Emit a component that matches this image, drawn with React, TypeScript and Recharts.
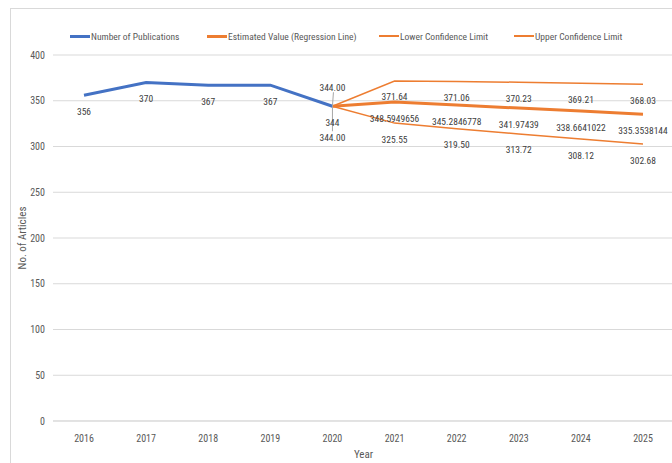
import React from 'react';
import {
  LineChart,
  Line,
  XAxis,
  YAxis,
  CartesianGrid,
  LabelList,
  Label,
} from 'recharts';

const years = ['2016', '2017', '2018', '2019', '2020', '2021', '2022', '2023', '2024', '2025'];
const publications = [356, 370, 367, 367, 344];
const estimated = [344, 348.5949656, 345.2846778, 341.97439, 338.6641022, 335.3538144];
const lowerLimit = [344, 325.55, 319.5, 313.72, 308.12, 302.68];
const upperLimit = [344, 371.64, 371.06, 370.23, 369.21, 368.03];
const yTicks = [0, 50, 100, 150, 200, 250, 300, 350, 400];

const forecastStart = publications.length - 1;

const data = years.map((year, i) => ({
  year,
  pubs: i < publications.length ? publications[i] : null,
  est: i >= forecastStart ? estimated[i - forecastStart] : null,
  lower: i >= forecastStart ? lowerLimit[i - forecastStart] : null,
  upper: i >= forecastStart ? upperLimit[i - forecastStart] : null,
}));

const BLUE = '#4472C4';
const ORANGE = '#ED7D31';
const GRID = '#d9d9d9';
const TEXT = '#595959';
const FONT = '"Liberation Sans Narrow", "Roboto Condensed", "Open Sans", sans-serif';

const makeLabel = (kind: string) => (props: any) => {
  const { x, y, index, value } = props;
  if (value == null) return null;
  const first = index === forecastStart;
  let text = '';
  let dy = 16;
  if (kind === 'pubs') {
    text = String(value);
  } else if (kind === 'est') {
    if (first) return null;
    text = String(value);
  } else {
    text = Number(value).toFixed(2);
    if (first && kind === 'upper') dy = -19;
    if (first && kind === 'lower') dy = 31;
  }
  return (
    <g>
      {first && kind === 'upper' && (
        <line x1={x + 1} y1={y - 14} x2={x} y2={y} stroke="#a6a6a6" strokeWidth={1} />
      )}
      {first && kind === 'lower' && (
        <line x1={x} y1={y} x2={x} y2={y + 25} stroke="#a6a6a6" strokeWidth={1} />
      )}
      <text
        x={x}
        y={y + dy}
        textAnchor="middle"
        dominantBaseline="central"
        fill="#404040"
        fontSize={9.5}
        fontFamily={FONT}
      >
        {text}
      </text>
    </g>
  );
};

const legendItems = [
  { name: 'Number of Publications', color: BLUE, width: 3, left: 70 },
  { name: 'Estimated Value (Regression Line)', color: ORANGE, width: 3, left: 207 },
  { name: 'Lower Confidence Limit', color: ORANGE, width: 1.5, left: 379 },
  { name: 'Upper Confidence Limit', color: ORANGE, width: 1.5, left: 514 },
];

export default function App() {
  return (
    <div
      style={{
        position: 'absolute',
        left: 0,
        top: 0,
        width: 672,
        height: 463,
        overflow: 'hidden',
        background: '#fff',
      }}
    >
      <div
        style={{
          position: 'absolute',
          left: 10,
          top: 8,
          width: 700,
          height: 500,
          border: '1px solid #d9d9d9',
        }}
      />
      {legendItems.map((item) => (
        <div
          key={item.name}
          style={{
            position: 'absolute',
            left: item.left,
            top: 29,
            height: 14,
            display: 'flex',
            alignItems: 'center',
            fontFamily: FONT,
            fontSize: 9.5,
            color: TEXT,
            whiteSpace: 'nowrap',
          }}
        >
          <span
            style={{
              display: 'inline-block',
              width: 20,
              height: item.width,
              background: item.color,
              marginRight: 1,
            }}
          />
          {item.name}
        </div>
      ))}
      <div style={{ position: 'absolute', left: 0, top: 0 }}>
        <LineChart
          width={690}
          height={463}
          data={data}
          margin={{ top: 55, right: 16, bottom: 0, left: 0 }}
        >
          <CartesianGrid horizontal vertical={false} stroke={GRID} />
          <XAxis
            dataKey="year"
            height={42}
            padding={{ left: 31, right: 31 }}
            axisLine={{ stroke: GRID }}
            tickLine={false}
            tick={{ fill: TEXT, fontSize: 10, fontFamily: FONT }}
            tickMargin={8}
          >
            <Label
              value="Year"
              position="insideBottom"
              offset={5}
              fill={TEXT}
              fontSize={11}
              fontFamily={FONT}
            />
          </XAxis>
          <YAxis
            width={53}
            domain={[0, 400]}
            ticks={yTicks}
            axisLine={false}
            tickLine={false}
            tick={{ fill: TEXT, fontSize: 10, fontFamily: FONT }}
          >
            <Label
              value="No. of Articles"
              angle={-90}
              position="insideLeft"
              offset={22}
              fill={TEXT}
              fontSize={11}
              fontFamily={FONT}
              style={{ textAnchor: 'middle' }}
            />
          </YAxis>
          <Line
            dataKey="upper"
            stroke={ORANGE}
            strokeWidth={1.5}
            dot={false}
            isAnimationActive={false}
          >
            <LabelList dataKey="upper" content={makeLabel('upper')} />
          </Line>
          <Line
            dataKey="lower"
            stroke={ORANGE}
            strokeWidth={1.5}
            dot={false}
            isAnimationActive={false}
          >
            <LabelList dataKey="lower" content={makeLabel('lower')} />
          </Line>
          <Line
            dataKey="est"
            stroke={ORANGE}
            strokeWidth={3}
            dot={false}
            isAnimationActive={false}
          >
            <LabelList dataKey="est" content={makeLabel('est')} />
          </Line>
          <Line
            dataKey="pubs"
            stroke={BLUE}
            strokeWidth={3}
            dot={false}
            isAnimationActive={false}
          >
            <LabelList dataKey="pubs" content={makeLabel('pubs')} />
          </Line>
        </LineChart>
      </div>
    </div>
  );
}
